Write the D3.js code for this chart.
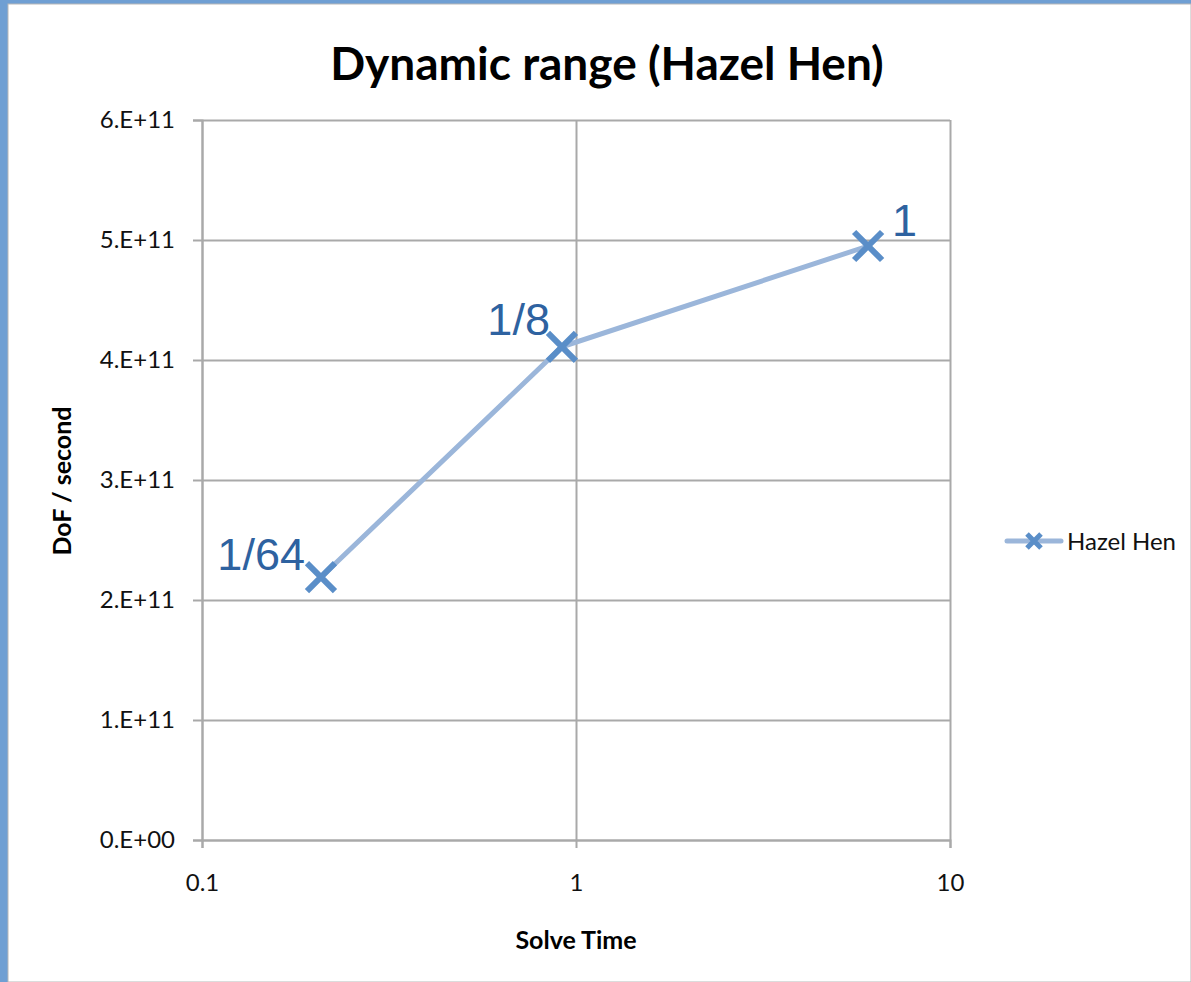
<!DOCTYPE html>
<html>
<head>
<meta charset="utf-8">
<script src="https://cdn.jsdelivr.net/npm/d3@7"></script>
<style>
  html, body { margin: 0; padding: 0; background: #fff; }
  svg { display: block; }
</style>
</head>
<body>
<div id="chart"></div>
<script>
const solveTime = [0.208, 0.917, 6.04];
const dofPerSec = [2.19e11, 4.11e11, 4.95e11];
const pointLabels = ['1/64', '1/8', '1'];
const xTicks = [0.1, 1, 10];
const yTicks = [0, 1e11, 2e11, 3e11, 4e11, 5e11, 6e11];
const seriesName = 'Hazel Hen';

const width = 1191;
const height = 982;
const margin = { top: 120, right: 241, bottom: 142, left: 202 };

const svg = d3.select('#chart')
  .append('svg')
  .attr('width', width)
  .attr('height', height);

// slide frame
svg.append('rect').attr('width', width).attr('height', height).attr('fill', '#6f9fd3');
svg.append('rect').attr('x', 8).attr('y', 4).attr('width', width - 8).attr('height', height - 4)
  .attr('fill', '#fff').attr('stroke', '#b8b8b8').attr('stroke-width', 1);

const x = d3.scaleLog()
  .domain([0.1, 10])
  .range([margin.left, width - margin.right]);

const y = d3.scaleLinear()
  .domain([0, 6e11])
  .range([height - margin.bottom, margin.top]);

const grid = '#a9a9a9';
const font = 'Lato, Carlito, sans-serif';

// horizontal grid
svg.append('g')
  .attr('transform', `translate(${margin.left},0)`)
  .call(d3.axisLeft(y).tickValues(yTicks).tickSize(-(width - margin.right - margin.left)).tickFormat(''))
  .call(g => g.select('.domain').remove())
  .call(g => g.selectAll('line').attr('stroke', grid).attr('stroke-width', 2));

// vertical grid
svg.append('g')
  .attr('transform', `translate(0,${height - margin.bottom})`)
  .call(d3.axisBottom(x).tickValues(xTicks).tickSize(-(height - margin.bottom - margin.top)).tickFormat(''))
  .call(g => g.select('.domain').remove())
  .call(g => g.selectAll('line').attr('stroke', grid).attr('stroke-width', 2));

// y axis
svg.append('g')
  .attr('transform', `translate(${margin.left},0)`)
  .call(d3.axisLeft(y).tickValues(yTicks).tickSize(9).tickPadding(18)
    .tickFormat(d => d === 0 ? '0.E+00' : (d / 1e11) + '.E+11'))
  .call(g => g.select('.domain').attr('stroke', grid).attr('stroke-width', 2))
  .call(g => g.selectAll('line').attr('stroke', grid).attr('stroke-width', 2))
  .call(g => g.selectAll('text').attr('fill', '#111').attr('font-size', '24px').attr('font-family', font));

// x axis
svg.append('g')
  .attr('transform', `translate(0,${height - margin.bottom})`)
  .call(d3.axisBottom(x).tickValues(xTicks).tickSize(8).tickPadding(26).tickFormat(d => String(d)))
  .call(g => g.select('.domain').attr('stroke', grid).attr('stroke-width', 2))
  .call(g => g.selectAll('line').attr('stroke', grid).attr('stroke-width', 2))
  .call(g => g.selectAll('text').attr('fill', '#111').attr('font-size', '24px').attr('font-family', font));

// title and axis titles
svg.append('text')
  .attr('x', 607).attr('y', 80)
  .attr('text-anchor', 'middle')
  .attr('font-family', font).attr('font-weight', 'bold').attr('font-size', '46px')
  .attr('fill', '#000')
  .text('Dynamic range (Hazel Hen)');

svg.append('text')
  .attr('x', (margin.left + width - margin.right) / 2).attr('y', 949)
  .attr('text-anchor', 'middle')
  .attr('font-family', font).attr('font-weight', 'bold').attr('font-size', '25px')
  .text('Solve Time');

svg.append('text')
  .attr('transform', `translate(71,${(margin.top + height - margin.bottom) / 2 + 1}) rotate(-90)`)
  .attr('text-anchor', 'middle')
  .attr('font-family', font).attr('font-weight', 'bold').attr('font-size', '25px')
  .text('DoF / second');

const data = solveTime.map((t, i) => ({ t, v: dofPerSec[i], label: pointLabels[i] }));

// series line
svg.append('path')
  .datum(data)
  .attr('fill', 'none')
  .attr('stroke', '#9bb6da')
  .attr('stroke-width', 5)
  .attr('stroke-linecap', 'round')
  .attr('d', d3.line().x(d => x(d.t)).y(d => y(d.v)));

const markColor = '#5a8ec8';
function cross(g, s, w) {
  g.append('path')
    .attr('d', `M${-s},${-s}L${s},${s}M${-s},${s}L${s},${-s}`)
    .attr('stroke', markColor).attr('stroke-width', w).attr('fill', 'none');
}

svg.append('g').selectAll('g')
  .data(data)
  .join('g')
  .attr('transform', d => `translate(${x(d.t)},${y(d.v)})`)
  .each(function () { cross(d3.select(this), 14, 6); });

// point labels
const labelOffsets = [[-16, -7, 'end'], [-12, -12, 'end'], [24, -10, 'start']];
svg.append('g').selectAll('text')
  .data(data)
  .join('text')
  .attr('x', (d, i) => x(d.t) + labelOffsets[i][0])
  .attr('y', (d, i) => y(d.v) + labelOffsets[i][1])
  .attr('text-anchor', (d, i) => labelOffsets[i][2])
  .attr('font-family', 'Liberation Sans, Arial, sans-serif')
  .attr('font-size', '45px')
  .attr('fill', '#2e62a0')
  .text(d => d.label);

// legend
const lg = svg.append('g').attr('transform', 'translate(1005,541)');
lg.append('line').attr('x1', 2).attr('x2', 56).attr('y1', 0).attr('y2', 0)
  .attr('stroke', '#9bb6da').attr('stroke-width', 5).attr('stroke-linecap', 'round');
lg.append('g').attr('transform', 'translate(29,0)').call(g => cross(g, 7, 5));
lg.append('text').attr('x', 62).attr('y', 9)
  .attr('font-family', font).attr('font-size', '24px').attr('fill', '#111')
  .text(seriesName);
</script>
</body>
</html>
